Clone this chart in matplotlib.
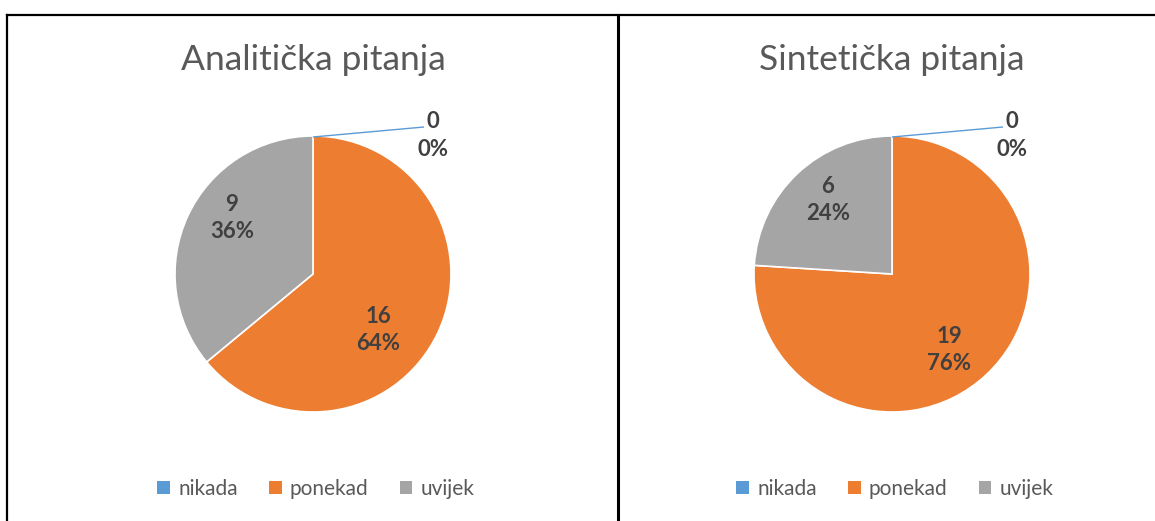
import matplotlib
matplotlib.use("Agg")
import matplotlib.pyplot as plt
from matplotlib.lines import Line2D
from matplotlib.patches import Patch

# ---- data ----
categories = ["nikada", "ponekad", "uvijek"]
titles = ["Analitička pitanja", "Sintetička pitanja"]
analiticka = [0, 16, 9]
sinteticka = [0, 19, 6]
percent_labels_a = ["0%", "64%", "36%"]
percent_labels_s = ["0%", "76%", "24%"]

COLORS = ["#5B9BD5", "#ED7D31", "#A5A5A5"]
TEXT = "#595959"
LABEL = "#404040"
FONT = ["Lato", "DejaVu Sans"]

W, H = 1155, 521
PX = 100.0  # pixels per data unit
R = 1.38    # pie radius in data units (~138 px)

# label offsets (px, relative to pie centre) for slices 1 and 2
label_pos = {
    0: [(65, -56), (-81, 56)],
    1: [(57, -76), (-64, 74)],
}

plt.rcParams["font.family"] = FONT
fig = plt.figure(figsize=(W / 100, H / 100), dpi=100)


def fx(x):
    return x / W


def fy(y):
    return 1 - y / H


def panel(i, cx, values, pcts):
    cy = 274
    size = 400
    ax = fig.add_axes([fx(cx - size / 2), fy(cy + size / 2), size / W, size / H])
    ax.pie(values, colors=COLORS, radius=R, startangle=90, counterclock=False,
           wedgeprops=dict(edgecolor="white", linewidth=1.2))
    ax.set_xlim(-2, 2)
    ax.set_ylim(-2, 2)
    ax.set_aspect("equal")
    ax.axis("off")

    # zero slice: leader line + label
    ax.plot([0, 1.11], [1.37, 1.47], color=COLORS[0], lw=1.0, solid_capstyle="butt")
    ax.text(1.20, 1.53, str(values[0]), ha="center", va="center",
            fontsize=16, fontweight="bold", color=LABEL)
    ax.text(1.20, 1.24, pcts[0], ha="center", va="center",
            fontsize=16, fontweight="bold", color=LABEL)

    for k, (dx, dy) in zip([1, 2], label_pos[i]):
        ax.text(dx / PX, dy / PX + 0.135, str(values[k]), ha="center", va="center",
                fontsize=16, fontweight="bold", color=LABEL)
        ax.text(dx / PX, dy / PX - 0.135, pcts[k], ha="center", va="center",
                fontsize=16, fontweight="bold", color=LABEL)

    fig.text(fx(cx), fy(60), titles[i], ha="center", va="center",
             fontsize=25.5, color=TEXT)

    handles = [Patch(facecolor=c, edgecolor="none") for c in COLORS]
    fig.legend(handles, categories, loc="center", bbox_to_anchor=(fx(cx + 3), fy(489)),
               ncol=3, frameon=False, fontsize=15, labelcolor=TEXT,
               handlelength=0.6, handleheight=0.6, handletextpad=0.4,
               columnspacing=1.5)


panel(0, 313, analiticka, percent_labels_a)
panel(1, 892, sinteticka, percent_labels_s)

# frame lines
fig.add_artist(Line2D([fx(7), fx(W)], [fy(15), fy(15)], color="black", lw=1.6))
fig.add_artist(Line2D([fx(7), fx(7)], [fy(15), 0], color="black", lw=1.6))
fig.add_artist(Line2D([fx(618), fx(618)], [fy(15), 0], color="black", lw=2.2))

fig.savefig("out.png", dpi=100, facecolor="white")
